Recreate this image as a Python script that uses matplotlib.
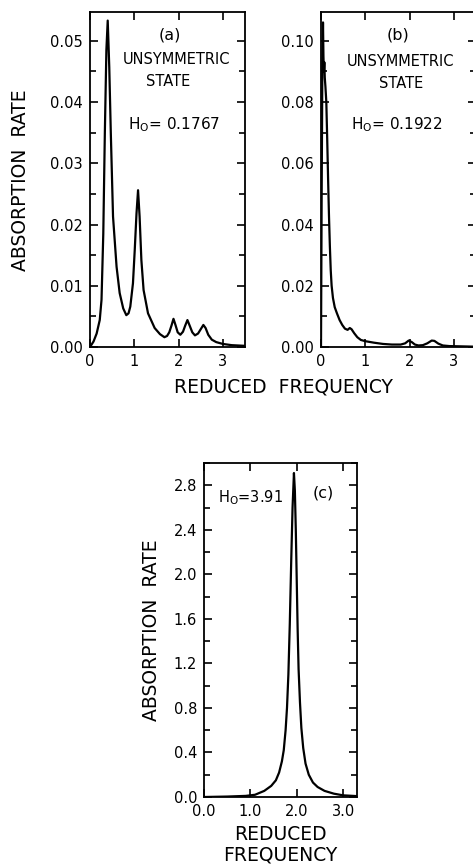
import matplotlib
matplotlib.use("Agg")
import matplotlib.pyplot as plt
import matplotlib.ticker as mticker

plt.rcParams['font.family'] = ['DejaVu Sans']
plt.rcParams['mathtext.fontset'] = 'dejavusans'

# ---- data ----
# panel (a) H0 = 0.1767
freq_a = [0, 0.08, 0.15, 0.22, 0.26, 0.30, 0.335, 0.37, 0.40, 0.435, 0.47, 0.52, 0.60,
          0.67, 0.75, 0.82, 0.87, 0.91, 0.97, 1.01, 1.05, 1.085, 1.12, 1.16, 1.21,
          1.31, 1.46, 1.58, 1.68, 1.74, 1.79, 1.84, 1.885, 1.93, 1.98, 2.04, 2.1, 2.15,
          2.2, 2.25, 2.31, 2.37, 2.44, 2.5, 2.56, 2.61, 2.67, 2.75, 2.85, 3.0, 3.2, 3.47]
rate_a = [0, 0.0009, 0.0022, 0.0044, 0.0077, 0.0185, 0.0349, 0.0485, 0.0533, 0.0457,
          0.0349, 0.0213, 0.0131, 0.0088, 0.0063, 0.0052, 0.0055, 0.0066, 0.0104,
          0.0158, 0.0218, 0.0256, 0.0213, 0.0142, 0.0093, 0.0055, 0.0031, 0.0021,
          0.0016, 0.0018, 0.0024, 0.0035, 0.0046, 0.0036, 0.0024, 0.0020, 0.0025,
          0.0035, 0.0044, 0.0035, 0.0024, 0.0019, 0.0022, 0.0029, 0.0036, 0.0031,
          0.0020, 0.0012, 0.0008, 0.0005, 0.0003, 0.0002]

# panel (b) H0 = 0.1922
freq_b = [0, 0.015, 0.03, 0.045, 0.055, 0.065, 0.075, 0.085, 0.1, 0.12, 0.14, 0.16,
          0.18, 0.2, 0.22, 0.24, 0.27, 0.31, 0.36, 0.42, 0.48, 0.54, 0.6, 0.65, 0.69,
          0.75, 0.82, 0.9, 1.0, 1.2, 1.4, 1.6, 1.8, 1.9, 1.98, 2.05, 2.12, 2.2, 2.3,
          2.4, 2.5, 2.56, 2.65, 2.75, 2.9, 3.2, 3.5]
rate_b = [0, 0.05, 0.09, 0.106, 0.095, 0.09, 0.093, 0.088, 0.085, 0.08, 0.068, 0.055,
          0.043, 0.033, 0.025, 0.02, 0.016, 0.013, 0.011, 0.0088, 0.0072, 0.006,
          0.0056, 0.0062, 0.0058, 0.0045, 0.0032, 0.0023, 0.0019, 0.0014, 0.0010,
          0.0008, 0.0008, 0.0012, 0.0021, 0.0016, 0.0008, 0.0005, 0.0006, 0.0012,
          0.0021, 0.0020, 0.0011, 0.0005, 0.0003, 0.0002, 0.0001]

# panel (c) H0 = 3.91
freq_c = [0, 0.5, 0.9, 1.1, 1.3, 1.45, 1.55, 1.62, 1.68, 1.72, 1.76, 1.79, 1.82, 1.85,
          1.88, 1.91, 1.94, 1.96, 1.98, 2.0, 2.02, 2.04, 2.07, 2.1, 2.14, 2.19, 2.26,
          2.35, 2.45, 2.6, 2.8, 3.0, 3.3]
rate_c = [0, 0.004, 0.010, 0.02, 0.055, 0.10, 0.15, 0.22, 0.32, 0.42, 0.6, 0.8, 1.1,
          1.55, 2.1, 2.6, 2.91, 2.75, 2.4, 1.95, 1.5, 1.15, 0.85, 0.62, 0.44, 0.3,
          0.2, 0.13, 0.09, 0.055, 0.03, 0.015, 0.008]

xticks_ab = [0, 1, 2, 3]
xticklabels_ab = ["0", "1", "2", "3"]
yticks_a = [0.00, 0.01, 0.02, 0.03, 0.04, 0.05]
yticklabels_a = ["0.00", "0.01", "0.02", "0.03", "0.04", "0.05"]
yticks_b = [0.00, 0.02, 0.04, 0.06, 0.08, 0.10]
yticklabels_b = ["0.00", "0.02", "0.04", "0.06", "0.08", "0.10"]
xticks_c = [0.0, 1.0, 2.0, 3.0]
xticklabels_c = ["0.0", "1.0", "2.0", "3.0"]
yticks_c = [0.0, 0.4, 0.8, 1.2, 1.6, 2.0, 2.4, 2.8]
yticklabels_c = ["0.0", "0.4", "0.8", "1.2", "1.6", "2.0", "2.4", "2.8"]

W, H = 473, 865
fig = plt.figure(figsize=(W / 100, H / 100), dpi=100)


def add_ax(l, r, t, b):
    return fig.add_axes([l / W, 1 - b / H, (r - l) / W, (b - t) / H])


def style(ax, minor_step):
    for s in ax.spines.values():
        s.set_linewidth(1.3)
    ax.tick_params(which='both', direction='in', top=True, right=True,
                   labelsize=10.5, pad=5, width=1.2)
    ax.tick_params(which='major', length=6)
    ax.tick_params(which='minor', length=4)
    ax.yaxis.set_minor_locator(mticker.MultipleLocator(minor_step))
    ax.xaxis.set_minor_locator(mticker.NullLocator())


def ftext(x, y, s, **kw):
    fig.text(x / W, 1 - y / H, s, ha='center', va='center', **kw)


ax_a = add_ax(90, 245, 12, 347)
ax_b = add_ax(321, 476, 12, 347)
ax_c = add_ax(204, 357, 463, 797)

lw = 1.6
ax_a.plot(freq_a, rate_a, color='black', lw=lw)
ax_a.set_xlim(0, 3.5)
ax_a.set_ylim(0, 0.0547)
ax_a.set_xticks(xticks_ab)
ax_a.set_xticklabels(xticklabels_ab)
ax_a.set_yticks(yticks_a)
ax_a.set_yticklabels(yticklabels_a)
style(ax_a, 0.005)
ax_a.text(0.516, 0.931, "(a)", transform=ax_a.transAxes, ha='center', va='center', fontsize=11.5)
ax_a.text(0.558, 0.857, "UNSYMMETRIC", transform=ax_a.transAxes, ha='center', va='center', fontsize=10.5)
ax_a.text(0.503, 0.794, "STATE", transform=ax_a.transAxes, ha='center', va='center', fontsize=10.5)
ax_a.text(0.542, 0.663, r"H$_\mathregular{O}$= 0.1767", transform=ax_a.transAxes,
          ha='center', va='center', fontsize=11)

ax_b.plot(freq_b, rate_b, color='black', lw=lw)
ax_b.set_xlim(0, 3.5)
ax_b.set_ylim(0, 0.1094)
ax_b.set_xticks(xticks_ab)
ax_b.set_xticklabels(xticklabels_ab)
ax_b.set_yticks(yticks_b)
ax_b.set_yticklabels(yticklabels_b)
style(ax_b, 0.01)
ax_b.text(0.497, 0.931, "(b)", transform=ax_b.transAxes, ha='center', va='center', fontsize=11.5)
ax_b.text(0.51, 0.851, "UNSYMMETRIC", transform=ax_b.transAxes, ha='center', va='center', fontsize=10.5)
ax_b.text(0.515, 0.788, "STATE", transform=ax_b.transAxes, ha='center', va='center', fontsize=10.5)
ax_b.text(0.49, 0.663, r"H$_\mathregular{O}$= 0.1922", transform=ax_b.transAxes,
          ha='center', va='center', fontsize=11)

ax_c.plot(freq_c, rate_c, color='black', lw=lw)
ax_c.set_xlim(0, 3.3)
ax_c.set_ylim(0, 3.0)
ax_c.set_xticks(xticks_c)
ax_c.set_xticklabels(xticklabels_c)
ax_c.set_yticks(yticks_c)
ax_c.set_yticklabels(yticklabels_c)
style(ax_c, 0.2)
ax_c.text(0.307, 0.895, r"H$_\mathregular{O}$=3.91", transform=ax_c.transAxes,
          ha='center', va='center', fontsize=10.5)
ax_c.text(0.778, 0.91, "(c)", transform=ax_c.transAxes, ha='center', va='center', fontsize=11.5)

# axis titles
lab = dict(fontsize=13.5)
ftext(21, 180, "ABSORPTION  RATE", rotation=90, **lab)
ftext(283, 387, "REDUCED  FREQUENCY", **lab)
ftext(151, 630, "ABSORPTION  RATE", rotation=90, **lab)
ftext(280, 834, "REDUCED", **lab)
ftext(280, 855, "FREQUENCY", **lab)

fig.savefig("out.png", dpi=100)
